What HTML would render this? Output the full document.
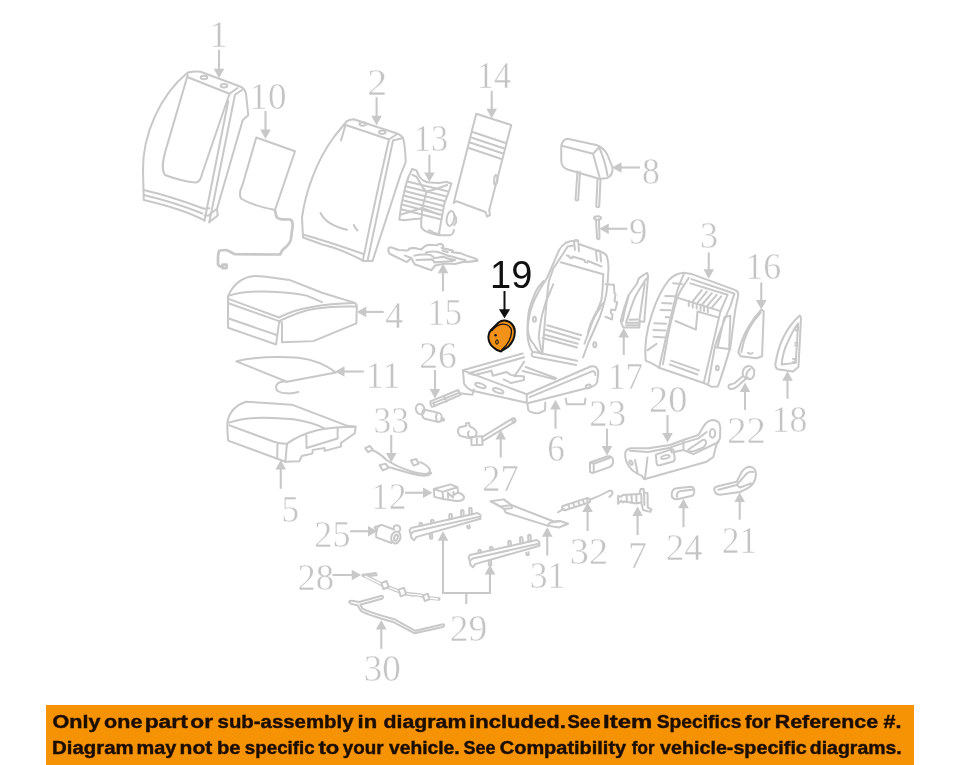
<!DOCTYPE html>
<html><head><meta charset="utf-8"><style>
html,body{margin:0;padding:0;background:#fff;width:960px;height:765px;overflow:hidden}
svg{display:block;will-change:transform}
.lb text{font-family:"Liberation Serif",serif;font-size:38px;fill:#c4c4c4;stroke:#fff;stroke-width:0.5px}
.pt{fill:none;stroke:#c8c8c8;stroke-width:2;stroke-linejoin:round;stroke-linecap:round}
.bn{font-family:"Liberation Sans",sans-serif;font-weight:bold;fill:#1c0d02;stroke:#1c0d02;stroke-width:0.45px}
</style></head><body>
<svg width="960" height="765" viewBox="0 0 960 765">
<rect x="0" y="0" width="960" height="765" fill="#fff"/>
<g class="pt">
<!-- region [130,60] 4x : parts 1, 10 -->
<g transform="translate(130 60) scale(0.25)" stroke-width="8">
<path d="M298,642 C220,600 120,575 55,560 L52,440 C50,300 120,140 231,50 C250,46 265,45 282,47 L438,105 C452,110 460,118 464,135 L473,221 L451,240 L348,595 L351,622 L317,648"/>
<path d="M234,70 L398,135 L430,112"/>
<path d="M393,164 L298,642"/>
<path d="M448,120 L420,139 L317,650"/>
<path d="M55,520 C140,540 230,570 296,595 L317,593 M55,540 C140,560 230,590 290,614 M348,595 L318,618 M298,622 L317,622"/>
<ellipse cx="296" cy="70" rx="13" ry="7"/>
<ellipse cx="376" cy="103" rx="13" ry="7"/>
<path d="M231,60 L140,370 C130,410 125,440 140,460 C180,475 230,488 262,490 C280,488 285,470 290,450 L398,135"/>
<path d="M505,310 L660,365 L580,600 C530,590 470,570 445,555 C435,540 440,520 450,500 Z"/>
<path stroke-width="11" d="M580,602 L586,628 C592,636 600,637 612,637 L640,638 C652,642 652,655 650,670 L643,720 C638,740 620,750 610,760 L600,778 L420,777 C405,770 395,762 385,760 L358,762 C352,768 352,780 352,800 L352,818 C356,826 362,828 370,828 M370,818 L386,818 L386,832 L370,832 Z"/>
</g>
<!-- region [290,100] 4x : parts 2, 13, 14, 15 -->
<g transform="translate(290 100) scale(0.25)" stroke-width="8">
<path d="M228,84 C240,78 248,77 255,77 L428,134 C442,140 449,145 452,152 C458,170 461,200 463,248 L442,300 L330,644 L295,644 C250,620 200,595 130,578 L52,550 L48,470 C60,380 100,250 177,146 Z"/>
<path d="M220,99 L396,158 L428,136"/>
<path d="M396,158 C380,230 340,400 291,644"/>
<path d="M452,152 L412,162 C390,260 350,450 310,644"/>
<path d="M52,538 C130,560 220,590 291,615"/>
<ellipse cx="291" cy="96" rx="13" ry="7"/>
<ellipse cx="369" cy="129" rx="13" ry="7"/>
<path d="M220,107 L204,162"/>
<path d="M122,452 C140,490 190,510 228,519"/>
<path d="M255,500 C262,515 268,520 270,522"/>
<!-- 13 -->
<path d="M489,276 L506,282 C512,295 515,305 520,309 C527,318 532,322 537,324 C545,328 550,330 558,330 L596,332 C610,330 618,327 625,328 L646,334 C635,370 625,395 617,416 L596,533"/>
<path d="M489,276 C475,300 468,320 462,345 C450,390 442,430 437,478 L458,481 C480,478 500,476 525,474"/>
<path d="M525,474 L525,508 C530,518 535,522 541,524 C560,532 580,540 600,541 L642,541 C650,536 655,530 656,520"/>
<path d="M489,299 L506,307 L533,353 L546,366 L566,361 L604,349 L629,340"/>
<path d="M445,458 L529,432 L596,458"/>
<path d="M546,366 L529,432 L527,470"/>
<path d="M469,326 L634,366 M462,345 L627,386 M458,364 L620,405 M455,382 L615,424 M451,401 L612,443 M448,418 L609,460 M444,437 L606,478"/>
<ellipse cx="642" cy="474" rx="15" ry="30" transform="rotate(10 642 474)"/>
<path d="M657,460 C668,470 668,490 657,500"/>
<path d="M556,520 C570,530 585,535 600,538"/>
<!-- 14 -->
<path d="M745,55 L885,100 L797,440 L800,460 L788,466 L782,448 L666,405 L655,412 L660,390 Z"/>
<path d="M730,128 L862,172 M725,150 L857,194 M720,170 L852,214 M715,192 L846,236"/>
<path d="M822,300 C816,305 815,330 818,338 C823,340 828,335 830,320 C831,305 828,300 822,300 Z"/>
<!-- 15 -->
</g>
<g transform="translate(380 240) scale(0.10417)" stroke-width="20">
<path d="M80,92 C82,75 95,68 110,72 L180,96 L268,100 C275,85 285,78 300,78 L330,76 L400,92 C410,70 430,55 470,46 L548,50 C560,38 580,32 600,45 C612,55 610,68 592,76 L650,90 L700,102 L692,118 L770,126 L830,150 L900,172 C925,180 940,190 935,198 L850,210 L800,210 L720,230 L630,226 L530,245 L492,290 L332,232 L300,172 L258,212 L92,132 C82,120 80,105 80,92 Z"/>
<path d="M330,150 C360,140 400,138 450,140 C490,142 510,150 520,175 L600,162 C630,165 650,180 720,192 M350,192 L500,186 C510,195 515,205 522,215 L600,210 L700,202 M440,120 C480,110 520,108 545,112 L600,130 L650,150 L700,160 L760,180 L820,192 M600,100 L650,118 M240,150 L300,172"/>
</g>
<!-- region [450,120] 4x : 8, 9 -->
<g transform="translate(450 120) scale(0.25)" stroke-width="8">
<path d="M470,75 L585,100 C605,106 620,120 630,140 L650,190 C652,210 645,225 628,232 L600,236 L470,198 C455,192 446,180 445,165 L445,110 C446,88 455,78 470,75 Z"/>
<path d="M447,103 L572,135 L598,108 M572,135 L600,235 M598,112 C610,140 625,190 630,222"/>
<path d="M510,206 L502,318 C503,323 512,323 513,318 L520,208 M590,238 L585,345 C586,350 596,350 597,345 L602,238"/>
<ellipse cx="590" cy="392" rx="14" ry="7"/>
<path d="M584,398 L588,472 C589,478 598,478 598,472 L596,398"/>
</g>
<!-- region [440,230] 4x : 6 frame -->
<g transform="translate(440 230) scale(0.25)" stroke-width="8">
<path d="M504,51 C490,60 482,70 476,81 L429,190 L395,245 C370,290 355,330 350,400 C348,440 358,470 372,490"/>
<path d="M504,51 C520,44 535,42 545,44 M558,57 L646,88 C660,94 666,100 668,106 C673,125 674,140 674,156 L670,217 C668,240 665,260 660,278 C652,310 645,330 640,346 L592,455 L572,510"/>
<path d="M415,204 C395,225 385,240 381,251 C365,290 356,310 354,333 C350,370 350,390 351,401 C355,430 362,445 374,455 C385,475 395,488 408,496"/>
<path d="M453,217 C440,250 430,270 422,292 C410,330 405,350 402,374 C398,400 396,415 395,428 C398,460 405,480 410,496"/>
<path d="M536,62 L511,66 C495,90 470,130 453,154 L436,204 C430,240 428,270 425,300 L415,420 L410,490"/>
<path d="M483,129 L653,177"/>
<path d="M507,102 L516,104 L518,110 L528,113 L530,106 L578,120 L580,128 L590,130 L592,124 L646,146"/>
<path d="M540,80 L536,46 C538,38 552,38 553,45 L556,85 M628,122 L624,88 C626,80 640,80 641,88 L644,126"/>
<path d="M653,177 C652,220 650,250 646,278 C635,310 625,335 612,360 L578,455"/>
<path d="M653,292 C640,305 628,320 619,340 C605,365 598,385 592,408 M640,312 C628,330 615,350 606,374"/>
<path d="M662,217 L696,219 L697,250 L702,256 L698,284 L709,290 L701,321 L685,318 L683,332 L690,337 L688,358 L662,347"/>
<path d="M429,381 L565,421 M422,398 L558,438 M415,418 L551,455 M410,432 L548,470"/>
<ellipse cx="378" cy="357" rx="6" ry="10"/>
<ellipse cx="619" cy="459" rx="6" ry="10"/>
<path d="M371,489 C364,495 365,505 374,507 L545,540 M378,488 L548,523"/>
<!-- seat -->
</g>
<g transform="translate(460 340) scale(0.14583)" stroke-width="13.7">
<path d="M20,208 L458,372 L458,430 L100,352 C70,345 45,330 28,300 Z"/>
<path d="M20,208 L430,92 M60,228 L440,118"/>
<path d="M458,372 L895,182 C930,172 950,195 948,230 L940,290 C935,305 920,315 900,322 L470,432 M478,392 L905,215 C920,212 932,222 928,240"/>
<ellipse cx="140" cy="312" rx="38" ry="14" transform="rotate(20 140 312)"/>
<ellipse cx="262" cy="348" rx="38" ry="14" transform="rotate(20 262 348)"/>
<path d="M215,210 L225,245 L320,220 L350,240 L440,250 L438,275 L350,295 L300,270 M440,150 L372,250 M450,185 L660,262 M430,212 L650,270 M60,228 L100,240 L210,212"/>
<path d="M0,365 L85,375 L95,340"/>
<path d="M725,402 L732,440 L855,440 L860,402 M462,436 L468,480 C482,500 520,505 545,500 L583,482 L585,428"/>
<ellipse cx="880" cy="318" rx="18" ry="12" transform="rotate(-20 880 318)"/>
</g>
<!-- region [630,270] 6.375x : part 3 -->
<g transform="translate(630 270) scale(0.15686)" stroke-width="12.75">
<path d="M100,578 C92,500 100,400 140,280 C170,190 210,110 250,62 C280,30 310,20 345,18 L390,25 L672,128 C688,136 692,145 690,160 L670,260 L640,490 C620,560 590,660 560,742 L520,745 C500,735 485,725 470,720 L190,625 C150,600 120,585 100,578 Z"/>
<path d="M345,22 C320,80 295,150 290,175 C270,260 240,380 225,450 L185,625"/>
<path d="M392,58 L665,150 M385,85 L622,158 L577,262 L300,176"/>
<path d="M400,200 L458,128 M430,210 L490,138 M460,220 L522,148 M490,232 L552,158 M520,242 L582,168"/>
<path d="M375,198 L375,230 M400,208 L400,240 M425,216 L425,246 M450,226 L450,256 M472,232 L472,262 M496,240 L496,270"/>
<path d="M290,325 L420,380 L430,265 L562,302"/>
<path d="M577,262 L470,720 M665,152 L640,230 C615,280 590,350 560,430 L540,495 L500,720 M545,492 L640,505 M602,300 L560,485 M612,298 L640,292 M640,292 L632,502"/><path d="M375,50 C340,100 310,150 300,180 C280,250 255,350 240,430 L210,600"/>
<path d="M262,578 L440,640 M252,602 L430,666"/>
<path d="M275,85 L330,90 M225,165 L282,168 M205,210 L265,214 M195,255 L258,257 M228,300 L270,305 M155,340 L230,342 M150,382 L226,385 M150,425 L222,430 M110,512 L170,470"/>
<ellipse cx="557" cy="625" rx="9" ry="14"/>
</g>
<!-- 17 -->
<g transform="translate(605 260) scale(0.098)" stroke-width="20.4">
<path d="M430,130 L440,160 L400,630 L355,625 L350,690 L185,688 L160,625 L190,510 L240,360 L330,235 C335,200 345,185 360,175 Z"/>
<path d="M422,190 C380,260 320,330 290,420 C260,500 235,580 215,635 M405,240 L350,620 M250,610 L330,608 M215,640 L350,640 M215,665 L345,665"/>
<path d="M240,370 L200,520 L180,625"/>
</g>
<!-- 16, 18 -->
<g transform="translate(725 250) scale(0.17)" stroke-width="11.76">
<path d="M215,350 C170,400 120,470 95,545 L78,600 L92,625 L185,637 L218,625 L228,360 Z"/>
<path d="M210,368 C150,430 110,520 96,600 M135,605 C145,612 155,612 162,605"/>
<path d="M440,385 C448,392 448,405 446,420 L432,688 L400,715 L312,702 C300,695 295,688 296,675 C305,610 320,560 345,510 C370,460 400,420 440,385 Z"/>
<path d="M430,432 L416,664 L333,673 C338,620 350,580 370,540 C388,500 405,465 430,432 Z"/>
<path d="M418,455 L430,455 L428,472 L416,472 M413,545 L425,545 L424,562 L412,562 M400,640 L414,642 L412,660 L398,660"/>
</g>
<!-- 22 -->
<g transform="translate(720 355) scale(0.0523)" stroke-width="38">
<path d="M440,400 C420,330 440,240 520,215 C600,200 660,260 655,340 C650,420 610,470 560,460 C520,455 470,440 440,400 Z"/>
<path d="M585,262 C530,300 500,350 505,400 C510,430 525,445 550,455"/>
<path d="M440,400 L275,540 C240,560 200,555 175,570 C150,590 160,645 200,650 C240,655 280,640 320,610 L500,450"/>
</g>
<!-- 4 -->
<g transform="translate(220 265) scale(0.14583)" stroke-width="13.7">
<path d="M55,215 C90,130 160,78 240,75 C320,75 400,95 475,102 L700,190 L920,258 C935,265 940,275 938,290 L935,400 L640,522 L425,530 L425,392 M405,392 L385,545 L55,430 L55,215"/>
<path d="M58,232 L405,360 C480,320 560,300 620,290 C720,270 800,262 920,260"/>
<path d="M58,262 L405,385 C500,340 580,310 650,300 C750,285 840,282 935,285"/>
<path d="M58,212 C120,190 200,180 300,182 C420,185 520,195 595,210 L700,255"/>
<path d="M55,365 L388,480"/>
<path d="M405,385 L412,392"/>
</g>
<!-- 11, 5 -->
<g transform="translate(220 345) scale(0.16337)" stroke-width="12.24">
<path d="M100,100 C200,75 350,70 480,78 C580,90 660,130 710,168 L410,225 Z"/>
<path d="M410,225 C360,215 330,245 350,280 C380,300 440,300 480,288"/>
<path d="M50,585 C45,540 44,500 46,470 C55,420 90,370 160,347 L440,365 L780,495 L830,500 L826,540 L740,600 L740,622 L640,648 L640,630 L568,642 L565,665 L500,680 L485,712 L400,715 L50,585 Z"/>
<path d="M55,475 C150,440 300,440 450,455 C550,470 600,490 640,512"/>
<path d="M58,492 L330,592 C360,602 390,605 410,604 C470,560 540,535 600,520 C680,505 750,500 830,500"/>
<path d="M352,608 L350,690 M410,604 L400,715"/>
<path d="M528,548 L530,630 L720,572 L720,512"/>
</g>
<!-- 33 -->
<g transform="translate(360 380) scale(0.1307)" stroke-width="15.3">
<path d="M40,522 L75,505 L98,532 L62,552 Z"/>
<path d="M98,540 C130,550 160,570 200,610 C260,650 330,680 400,702 C440,715 470,722 510,718 C540,712 545,690 520,665 C505,650 480,635 462,628"/>
<path d="M215,665 C300,690 380,715 450,728 C490,735 530,730 545,710"/>
<path d="M150,652 L196,640 L218,672 L175,692 Z"/>
<path d="M390,615 L430,605 L450,640 L410,655 Z"/>
</g>
<!-- 26, 27 -->
<g transform="translate(360 380) scale(0.17708)" stroke-width="11.3">
</g>
<g transform="translate(410 385) scale(0.07292)" stroke-width="27.4">
<path d="M280,225 L660,68 L695,135 L320,295 L300,300 L282,268 Z M310,252 L672,108 M330,240 L332,290 M470,160 L500,230"/>
<ellipse cx="140" cy="332" rx="58" ry="72" transform="rotate(-20 140 332)"/>
<path d="M190,335 L395,382 C432,395 445,440 432,480 C422,505 400,512 380,506 L200,462 C165,450 158,395 175,355 C180,342 185,338 190,335 Z"/>
<path d="M372,390 C350,410 350,480 380,506"/>
<path d="M430,450 L460,462 C472,470 468,490 455,490 L420,482"/>
</g>
<g transform="translate(360 380) scale(0.17708)" stroke-width="11.3">
<path d="M560,268 C548,285 553,310 572,318 L630,330 M560,268 L600,258 L598,245 L615,242 L620,262 C645,272 660,290 658,305 C656,318 645,322 632,322"/>
<path d="M615,290 C605,300 608,320 630,330"/>
<path d="M628,322 L690,318 L692,365 L630,368 Z M660,320 L660,366"/>
<path d="M690,322 L860,218 C872,214 880,222 878,234 L692,345"/>
<ellipse cx="868" cy="228" rx="8" ry="12"/>
</g>
<!-- 12, 29 upper, 25 -->
<g transform="translate(370 475) scale(0.125)" stroke-width="16">
<path d="M510,112 L645,75 L700,98 L580,135 Z M510,112 L515,175 L585,192 L580,135 M700,98 L705,140 C730,150 752,165 752,180 C752,200 730,208 690,208 L585,192"/>
<path d="M622,140 L625,182 M625,145 L665,180 L668,135 M668,160 L705,140"/>
<path d="M328,424 L861,304 L882,318 L884,350 L368,497 M350,452 L878,333 M328,424 L316,444 L326,470 L330,500 L352,522 L370,498 M326,470 L350,452"/>
<path d="M398,410 L396,390 C398,380 414,380 416,390 L418,406 M490,388 L488,366 C490,356 506,356 508,366 L510,384 M636,356 L634,318 C636,308 652,308 654,318 L656,352 M730,334 L728,288 C730,278 746,278 748,288 L750,330 M795,320 L793,270 C795,260 811,260 813,270 L815,316"/>
<path d="M478,474 L480,504 C482,512 496,512 498,504 L496,470 M778,406 L780,421 C782,428 796,428 798,421 L796,402"/>
</g>
<g transform="translate(370 515) scale(0.04577)" stroke-width="43.7">
<path d="M195,238 C225,218 270,215 300,232 L520,318 M195,238 C150,270 120,420 140,490 L470,612"/>
<ellipse cx="565" cy="490" rx="100" ry="132" transform="rotate(15 565 490)"/>
<ellipse cx="568" cy="495" rx="38" ry="68" transform="rotate(20 568 495)"/>
<path d="M515,300 C510,250 545,220 585,222 C630,225 665,260 660,310 C658,330 650,345 640,352"/>
<path d="M195,238 L130,250 L100,275 L145,340"/>

</g>
<!-- 28, 30 -->
<g transform="translate(290 555) scale(0.16667)" stroke-width="12">
<path d="M440,118 L515,108 L520,122 L470,126"/>
<path stroke-width="22" d="M440,122 C480,138 520,160 560,182 L665,222 C700,238 740,238 780,240 L815,255 L892,264"/>
<path stroke="#fff" stroke-width="8" d="M452,128 C485,142 522,162 560,182 L665,222 C700,238 740,238 780,240 L815,255 L885,264"/>
<path fill="#fff" d="M548,168 L580,156 L592,192 L560,204 Z M652,208 L684,196 L696,236 L664,248 Z M798,242 L826,232 L836,266 L808,276 Z"/>
<path d="M355,278 C352,290 365,295 405,302 L425,335 C470,360 540,380 615,400 L748,470 L918,432 C928,428 928,415 918,415 L752,455 L625,385 C560,368 490,350 435,322 L422,298 L552,262 C560,258 560,245 550,245 L415,282 C390,278 370,270 355,278 Z"/>
</g>
<!-- 29 lower (copy) -->
<g transform="translate(429 502) scale(0.125)" stroke-width="16">
<path d="M328,424 L861,304 L882,318 L884,350 L368,497 M350,452 L878,333 M328,424 L316,444 L326,470 L330,500 L352,522 L370,498 M326,470 L350,452"/>
<path d="M398,410 L396,390 C398,380 414,380 416,390 L418,406 M490,388 L488,366 C490,356 506,356 508,366 L510,384 M636,356 L634,318 C636,308 652,308 654,318 L656,352 M730,334 L728,288 C730,278 746,278 748,288 L750,330 M795,320 L793,270 C795,260 811,260 813,270 L815,316"/>
<path d="M478,474 L480,504 C482,512 496,512 498,504 L496,470 M778,406 L780,421 C782,428 796,428 798,421 L796,402"/>
</g>
<!-- 31 -->
<g transform="translate(460 490) scale(0.125)" stroke-width="16">
<path d="M245,90 L350,75 L410,120 L750,252 L800,248 L865,270 L790,300 L700,285 L365,180 L352,152 L322,132 Z"/>
<path d="M322,132 L410,120 M352,152 L415,145 L410,120 M700,285 L720,262 L800,248"/>
</g>
<!-- 23, 32, 7 -->
<g transform="translate(555 440) scale(0.125)" stroke-width="16">
<path d="M280,180 L420,130 C450,125 465,145 465,170 C465,195 455,208 440,215 L300,265 L280,255 Z M280,180 L310,190 L310,262 M310,190 L440,142"/>
<path d="M25,578 L70,550"/>
<path d="M62,528 L255,465 C275,462 285,480 278,498 L80,562 C60,565 50,540 62,528 Z M105,515 L118,550 M145,502 L158,538 M185,490 L198,526 M222,478 L235,514 M255,466 L262,505"/>
<path d="M278,478 C340,455 400,425 430,408 C450,400 465,410 460,425 C455,440 445,448 435,455"/>
<path d="M505,448 L530,455 L540,440 L675,432 L685,392 L708,390 L712,420 L740,425 L742,540 L772,555 L762,575 L705,560 L690,500 L650,508 L555,492 L540,500 L530,485 L505,510 Z"/>
<path d="M572,440 L575,495 M612,437 L615,500 M650,434 L652,505 M690,430 L692,500 M712,420 L715,520"/>
</g>
<!-- 20, 24, 21 -->
<g transform="translate(620 410) scale(0.16667)" stroke-width="12">
<path d="M32,252 C40,238 50,232 65,230 L170,230 L300,210 L380,180 L470,150 L500,100 C515,75 535,60 560,60 C585,62 602,80 602,110 L600,170 L582,200 L572,232 L560,282 L520,310 L145,415 L132,395 C90,380 55,350 38,310 C30,290 30,270 32,252 Z"/>
<path d="M60,245 L170,252 L300,226 L385,196 L470,170 L520,132 M165,285 L150,410 M90,300 L105,375"/>
<ellipse cx="66" cy="316" rx="8" ry="14" transform="rotate(-30 66 316)"/>
<path d="M215,268 L308,236 C318,234 322,240 324,250 L328,295 C328,302 322,308 315,310 L238,332 C228,334 222,330 220,320 Z"/>
<ellipse cx="272" cy="282" rx="26" ry="10" transform="rotate(-15 272 282)"/>
<path d="M410,238 L495,180 C510,175 522,190 515,205 L500,225 L440,248 C420,252 405,248 410,238 Z"/>
<ellipse cx="555" cy="140" rx="16" ry="26"/>
<path d="M380,185 L382,240 L440,265 L592,192 M300,226 L310,255 L380,240"/>
<path d="M310,512 C310,490 320,472 340,470 L425,460 C442,460 448,478 445,495 C442,510 430,518 420,518 L345,535 C325,538 310,528 310,512 Z M342,522 C338,505 345,490 360,487 L440,477"/>
<path d="M565,470 C575,458 590,455 605,453 L700,430 L730,372 C745,350 760,340 780,340 C805,342 818,360 815,395 C812,430 790,455 765,470 L720,492 L600,508 C580,508 565,495 565,470 Z M590,478 L700,450 M700,450 L745,398 C760,378 780,365 800,372 M700,450 L720,465 L785,440"/>
</g>

</g>
<g class="lb">
<text transform="translate(219.0 47.0) scale(1.000 1)" x="-10.0" y="0">1</text>
<text transform="translate(268.8 109.0) scale(0.977 1)" x="-19.9" y="0">10</text>
<text transform="translate(377.0 95.0) scale(1.049 1)" x="-9.4" y="0">2</text>
<text transform="translate(495.2 88.3) scale(0.908 1)" x="-20.4" y="0">14</text>
<text transform="translate(431.7 151.4) scale(0.902 1)" x="-19.9" y="0">13</text>
<text transform="translate(650.9 184.4) scale(0.938 1)" x="-9.5" y="0">8</text>
<text transform="translate(638.1 244.4) scale(0.960 1)" x="-9.4" y="0">9</text>
<text transform="translate(709.1 248.2) scale(0.952 1)" x="-9.6" y="0">3</text>
<text transform="translate(764.3 279.1) scale(0.945 1)" x="-20.1" y="0">16</text>
<text transform="translate(394.3 328.2) scale(0.946 1)" x="-9.6" y="0">4</text>
<text transform="translate(445.6 324.8) scale(0.914 1)" x="-19.9" y="0">15</text>
<text transform="translate(438.5 367.8) scale(0.993 1)" x="-19.4" y="0">26</text>
<text transform="translate(383.6 388.4) scale(0.945 1)" x="-18.8" y="0">11</text>
<text transform="translate(626.5 388.5) scale(0.921 1)" x="-20.1" y="0">17</text>
<text transform="translate(607.8 425.6) scale(0.967 1)" x="-19.1" y="0">23</text>
<text transform="translate(668.3 411.6) scale(1.007 1)" x="-19.1" y="0">20</text>
<text transform="translate(746.5 443.0) scale(1.022 1)" x="-18.9" y="0">22</text>
<text transform="translate(790.4 432.1) scale(0.938 1)" x="-19.9" y="0">18</text>
<text transform="translate(556.4 461.2) scale(0.924 1)" x="-9.8" y="0">6</text>
<text transform="translate(391.4 432.6) scale(0.935 1)" x="-19.1" y="0">33</text>
<text transform="translate(500.9 491.2) scale(0.959 1)" x="-19.4" y="0">27</text>
<text transform="translate(290.6 521.5) scale(0.925 1)" x="-9.9" y="0">5</text>
<text transform="translate(389.5 508.8) scale(0.925 1)" x="-19.6" y="0">12</text>
<text transform="translate(332.5 546.5) scale(0.950 1)" x="-19.1" y="0">25</text>
<text transform="translate(547.3 587.8) scale(0.938 1)" x="-18.8" y="0">31</text>
<text transform="translate(588.8 564.2) scale(1.010 1)" x="-18.9" y="0">32</text>
<text transform="translate(638.2 567.7) scale(1.000 1)" x="-10.2" y="0">7</text>
<text transform="translate(684.8 560.0) scale(0.962 1)" x="-19.6" y="0">24</text>
<text transform="translate(739.4 552.8) scale(0.921 1)" x="-18.8" y="0">21</text>
<text transform="translate(315.9 590.4) scale(0.964 1)" x="-19.1" y="0">28</text>
<text transform="translate(468.6 640.8) scale(0.987 1)" x="-19.1" y="0">29</text>
<text transform="translate(382.4 681.1) scale(0.976 1)" x="-19.1" y="0">30</text>
</g>
<g>
<line x1="219.00" y1="49.80" x2="219.00" y2="69.70" stroke="#c8c8c8" stroke-width="2.1"/><polygon points="219.00,78.20 213.70,68.70 224.30,68.70" fill="#c8c8c8"/>
<line x1="265.50" y1="111.00" x2="265.50" y2="130.50" stroke="#c8c8c8" stroke-width="2.1"/><polygon points="265.50,139.00 260.20,129.50 270.80,129.50" fill="#c8c8c8"/>
<line x1="376.60" y1="97.20" x2="376.60" y2="116.70" stroke="#c8c8c8" stroke-width="2.1"/><polygon points="376.60,125.20 371.30,115.70 381.90,115.70" fill="#c8c8c8"/>
<line x1="491.70" y1="90.80" x2="491.70" y2="109.80" stroke="#c8c8c8" stroke-width="2.1"/><polygon points="491.70,118.30 486.40,108.80 497.00,108.80" fill="#c8c8c8"/>
<line x1="429.40" y1="154.70" x2="429.40" y2="173.50" stroke="#c8c8c8" stroke-width="2.1"/><polygon points="429.40,182.00 424.10,172.50 434.70,172.50" fill="#c8c8c8"/>
<line x1="640.00" y1="167.50" x2="620.50" y2="167.50" stroke="#c8c8c8" stroke-width="2.1"/><polygon points="612.00,167.50 621.50,162.20 621.50,172.80" fill="#c8c8c8"/>
<line x1="627.50" y1="228.75" x2="607.75" y2="228.75" stroke="#c8c8c8" stroke-width="2.1"/><polygon points="599.25,228.75 608.75,223.45 608.75,234.05" fill="#c8c8c8"/>
<line x1="708.75" y1="252.50" x2="708.75" y2="270.25" stroke="#c8c8c8" stroke-width="2.1"/><polygon points="708.75,278.75 703.45,269.25 714.05,269.25" fill="#c8c8c8"/>
<line x1="761.25" y1="282.50" x2="761.25" y2="301.00" stroke="#c8c8c8" stroke-width="2.1"/><polygon points="761.25,309.50 755.95,300.00 766.55,300.00" fill="#c8c8c8"/>
<line x1="383.70" y1="311.90" x2="365.30" y2="311.90" stroke="#c8c8c8" stroke-width="2.1"/><polygon points="356.80,311.90 366.30,306.60 366.30,317.20" fill="#c8c8c8"/>
<line x1="443.00" y1="291.25" x2="443.00" y2="272.25" stroke="#c8c8c8" stroke-width="2.1"/><polygon points="443.00,263.75 448.30,273.25 437.70,273.25" fill="#c8c8c8"/>
<line x1="435.00" y1="370.00" x2="435.00" y2="390.00" stroke="#c8c8c8" stroke-width="2.1"/><polygon points="435.00,398.50 429.70,389.00 440.30,389.00" fill="#c8c8c8"/>
<line x1="363.75" y1="371.50" x2="343.50" y2="371.50" stroke="#c8c8c8" stroke-width="2.1"/><polygon points="335.00,371.50 344.50,366.20 344.50,376.80" fill="#c8c8c8"/>
<line x1="623.75" y1="355.00" x2="623.75" y2="336.50" stroke="#c8c8c8" stroke-width="2.1"/><polygon points="623.75,328.00 629.05,337.50 618.45,337.50" fill="#c8c8c8"/>
<line x1="391.25" y1="435.00" x2="391.25" y2="454.00" stroke="#c8c8c8" stroke-width="2.1"/><polygon points="391.25,462.50 385.95,453.00 396.55,453.00" fill="#c8c8c8"/>
<line x1="607.00" y1="428.75" x2="607.00" y2="447.00" stroke="#c8c8c8" stroke-width="2.1"/><polygon points="607.00,455.50 601.70,446.00 612.30,446.00" fill="#c8c8c8"/>
<line x1="667.50" y1="415.00" x2="667.50" y2="434.00" stroke="#c8c8c8" stroke-width="2.1"/><polygon points="667.50,442.50 662.20,433.00 672.80,433.00" fill="#c8c8c8"/>
<line x1="745.00" y1="410.00" x2="745.00" y2="391.00" stroke="#c8c8c8" stroke-width="2.1"/><polygon points="745.00,382.50 750.30,392.00 739.70,392.00" fill="#c8c8c8"/>
<line x1="787.50" y1="398.75" x2="787.50" y2="379.75" stroke="#c8c8c8" stroke-width="2.1"/><polygon points="787.50,371.25 792.80,380.75 782.20,380.75" fill="#c8c8c8"/>
<line x1="555.50" y1="428.75" x2="555.50" y2="408.50" stroke="#c8c8c8" stroke-width="2.1"/><polygon points="555.50,400.00 560.80,409.50 550.20,409.50" fill="#c8c8c8"/>
<line x1="500.75" y1="457.50" x2="500.75" y2="438.50" stroke="#c8c8c8" stroke-width="2.1"/><polygon points="500.75,430.00 506.05,439.50 495.45,439.50" fill="#c8c8c8"/>
<line x1="280.75" y1="488.75" x2="280.75" y2="468.50" stroke="#c8c8c8" stroke-width="2.1"/><polygon points="280.75,460.00 286.05,469.50 275.45,469.50" fill="#c8c8c8"/>
<line x1="405.00" y1="492.75" x2="424.00" y2="492.75" stroke="#c8c8c8" stroke-width="2.1"/><polygon points="432.50,492.75 423.00,498.05 423.00,487.45" fill="#c8c8c8"/>
<line x1="350.00" y1="531.25" x2="369.00" y2="531.25" stroke="#c8c8c8" stroke-width="2.1"/><polygon points="377.50,531.25 368.00,536.55 368.00,525.95" fill="#c8c8c8"/>
<line x1="547.25" y1="555.50" x2="547.25" y2="535.75" stroke="#c8c8c8" stroke-width="2.1"/><polygon points="547.25,527.25 552.55,536.75 541.95,536.75" fill="#c8c8c8"/>
<line x1="587.60" y1="531.00" x2="587.60" y2="511.10" stroke="#c8c8c8" stroke-width="2.1"/><polygon points="587.60,502.60 592.90,512.10 582.30,512.10" fill="#c8c8c8"/>
<line x1="637.60" y1="535.10" x2="637.60" y2="515.00" stroke="#c8c8c8" stroke-width="2.1"/><polygon points="637.60,506.50 642.90,516.00 632.30,516.00" fill="#c8c8c8"/>
<line x1="683.50" y1="527.20" x2="683.50" y2="507.25" stroke="#c8c8c8" stroke-width="2.1"/><polygon points="683.50,498.75 688.80,508.25 678.20,508.25" fill="#c8c8c8"/>
<line x1="739.70" y1="519.70" x2="739.70" y2="501.00" stroke="#c8c8c8" stroke-width="2.1"/><polygon points="739.70,492.50 745.00,502.00 734.40,502.00" fill="#c8c8c8"/>
<line x1="332.50" y1="575.00" x2="352.75" y2="575.00" stroke="#c8c8c8" stroke-width="2.1"/><polygon points="361.25,575.00 351.75,580.30 351.75,569.70" fill="#c8c8c8"/>
<line x1="381.25" y1="648.75" x2="381.25" y2="628.50" stroke="#c8c8c8" stroke-width="2.1"/><polygon points="381.25,620.00 386.55,629.50 375.95,629.50" fill="#c8c8c8"/>
<polyline points="443,536 443,593 490,593 490,570" fill="none" stroke="#c8c8c8" stroke-width="2.1"/>
<line x1="443.00" y1="540.00" x2="443.00" y2="539.75" stroke="#c8c8c8" stroke-width="2.1"/><polygon points="443.00,531.25 448.30,540.75 437.70,540.75" fill="#c8c8c8"/>
<line x1="490.00" y1="575.00" x2="490.00" y2="573.50" stroke="#c8c8c8" stroke-width="2.1"/><polygon points="490.00,565.00 495.30,574.50 484.70,574.50" fill="#c8c8c8"/>
<line x1="466.25" y1="593" x2="466.25" y2="604" stroke="#c8c8c8" stroke-width="2.1"/>
</g>
<g id="p19">
<path d="M504.5,320.5 C510,321 514.5,325 514.8,331 C515,337 512,343 508.5,346.5 C506,348.5 504,349 503,350 L501,351.5 C497,350.5 495,349 493.5,347.5 C490,345 488,340 488.5,336 C488.8,333 489.5,331.5 491,330 L498.5,322.5 C500.5,321 502.5,320.4 504.5,320.5 Z" fill="#f39218" stroke="#111" stroke-width="2"/>
<path d="M491.5,331 C494,328 497,325 501,324.3 C505,323.8 509,325 511,328.5 C512,332 511,337 509,341 C507,345 504,348 501.5,350" fill="none" stroke="#111" stroke-width="1.3"/>
<circle cx="495.6" cy="335.3" r="1.2" fill="#111"/>
<ellipse cx="497" cy="342" rx="1.3" ry="2.2" fill="none" stroke="#111" stroke-width="1"/>
<text x="490" y="288" style="font-family:'Liberation Sans',sans-serif;font-size:38px" fill="#111">19</text>
<line x1="504.50" y1="291.00" x2="504.50" y2="310.30" stroke="#111" stroke-width="2"/><polygon points="504.50,318.30 498.90,309.30 510.10,309.30" fill="#111"/>
</g>
<rect x="46" y="705" width="868" height="60" fill="#f59305"/>
<text class="bn" x="52.53" y="728" font-size="19.2" textLength="47.92" lengthAdjust="spacingAndGlyphs">Only</text>
<text class="bn" x="104.13" y="728" font-size="19.2" textLength="38.22" lengthAdjust="spacingAndGlyphs">one</text>
<text class="bn" x="144.71" y="728" font-size="19.2" textLength="43.03" lengthAdjust="spacingAndGlyphs">part</text>
<text class="bn" x="190.33" y="728" font-size="19.2" textLength="22.78" lengthAdjust="spacingAndGlyphs">or</text>
<text class="bn" x="217.57" y="728" font-size="19.2" textLength="135.98" lengthAdjust="spacingAndGlyphs">sub-assembly</text>
<text class="bn" x="357.51" y="728" font-size="19.2" textLength="19.61" lengthAdjust="spacingAndGlyphs">in</text>
<text class="bn" x="383.54" y="728" font-size="19.2" textLength="82.87" lengthAdjust="spacingAndGlyphs">diagram</text>
<text class="bn" x="469.11" y="728" font-size="19.2" textLength="96.72" lengthAdjust="spacingAndGlyphs">included.</text>
<text class="bn" x="567.50" y="728" font-size="19.2" textLength="32.92" lengthAdjust="spacingAndGlyphs">See</text>
<text class="bn" x="603.08" y="728" font-size="19.2" textLength="49.18" lengthAdjust="spacingAndGlyphs">Item</text>
<text class="bn" x="656.68" y="728" font-size="19.2" textLength="84.69" lengthAdjust="spacingAndGlyphs">Specifics</text>
<text class="bn" x="745.04" y="728" font-size="19.2" textLength="25.73" lengthAdjust="spacingAndGlyphs">for</text>
<text class="bn" x="774.81" y="728" font-size="19.2" textLength="103.23" lengthAdjust="spacingAndGlyphs">Reference</text>
<text class="bn" x="883.46" y="728" font-size="19.2" textLength="17.91" lengthAdjust="spacingAndGlyphs">#.</text>
<text class="bn" x="52.02" y="753.5" font-size="19.2" textLength="81.59" lengthAdjust="spacingAndGlyphs">Diagram</text>
<text class="bn" x="136.46" y="753.5" font-size="19.2" textLength="39.82" lengthAdjust="spacingAndGlyphs">may</text>
<text class="bn" x="179.58" y="753.5" font-size="19.2" textLength="32.61" lengthAdjust="spacingAndGlyphs">not</text>
<text class="bn" x="217.03" y="753.5" font-size="19.2" textLength="23.61" lengthAdjust="spacingAndGlyphs">be</text>
<text class="bn" x="244.84" y="753.5" font-size="19.2" textLength="69.82" lengthAdjust="spacingAndGlyphs">specific</text>
<text class="bn" x="318.45" y="753.5" font-size="19.2" textLength="20.79" lengthAdjust="spacingAndGlyphs">to</text>
<text class="bn" x="342.75" y="753.5" font-size="19.2" textLength="40.75" lengthAdjust="spacingAndGlyphs">your</text>
<text class="bn" x="389.00" y="753.5" font-size="19.2" textLength="70.57" lengthAdjust="spacingAndGlyphs">vehicle.</text>
<text class="bn" x="463.52" y="753.5" font-size="19.2" textLength="31.89" lengthAdjust="spacingAndGlyphs">See</text>
<text class="bn" x="499.79" y="753.5" font-size="19.2" textLength="126.37" lengthAdjust="spacingAndGlyphs">Compatibility</text>
<text class="bn" x="631.77" y="753.5" font-size="19.2" textLength="22.78" lengthAdjust="spacingAndGlyphs">for</text>
<text class="bn" x="660.00" y="753.5" font-size="19.2" textLength="146.83" lengthAdjust="spacingAndGlyphs">vehicle-specific</text>
<text class="bn" x="809.81" y="753.5" font-size="19.2" textLength="92.00" lengthAdjust="spacingAndGlyphs">diagrams.</text>
</svg>
</body></html>
